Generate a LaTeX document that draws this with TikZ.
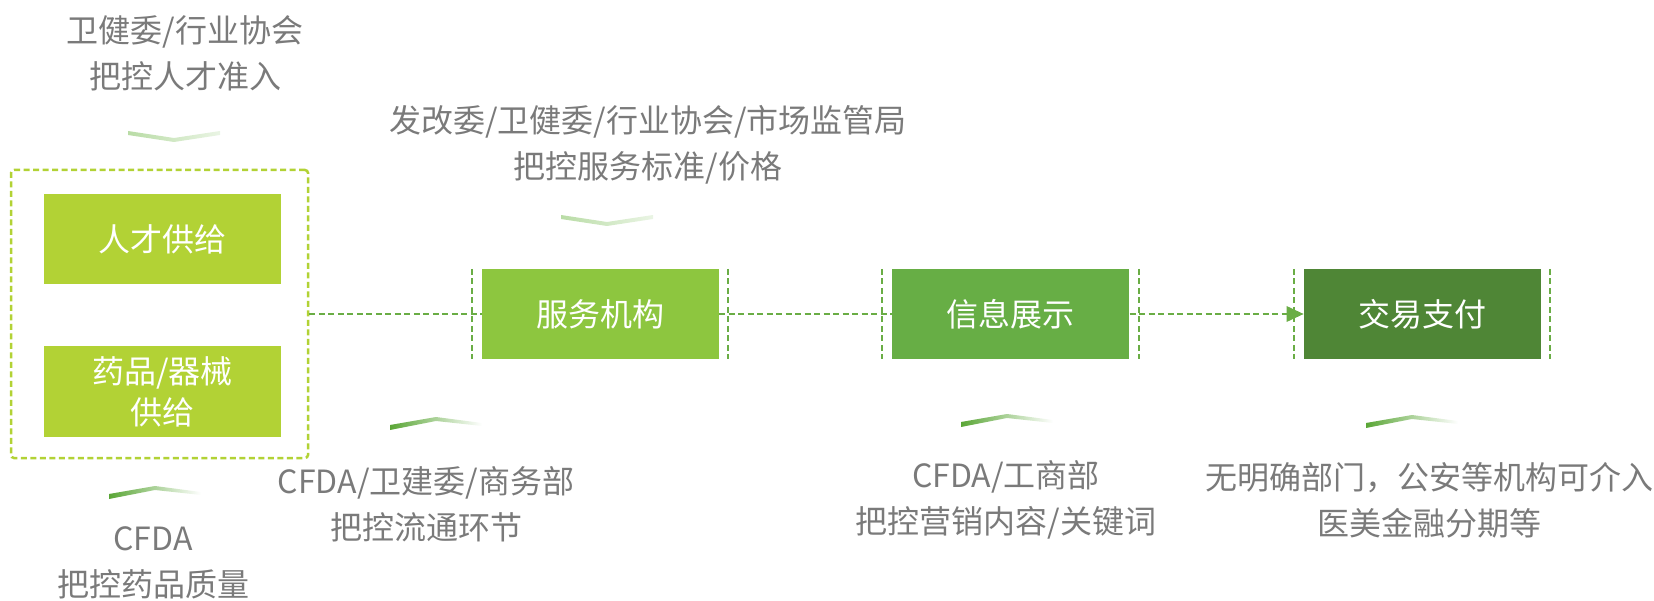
\documentclass[tikz,border=0pt]{standalone}
\usepackage{fontspec}
\setmainfont{Noto Sans CJK SC}
\usetikzlibrary{positioning}
\definecolor{limefill}{HTML}{B2D235}
\definecolor{servfill}{HTML}{8DC63F}
\definecolor{infofill}{HTML}{67AE45}
\definecolor{payfill}{HTML}{4F8636}
\definecolor{flowgreen}{HTML}{6AAD45}
\definecolor{notegray}{HTML}{7A7A7A}
\definecolor{chevlight}{HTML}{B9DCA6}
\definecolor{chevdark}{HTML}{5AA636}
\newcommand{\chevdown}[1]{\shade[shift={(#1)}, left color=chevlight, right color=chevlight!30] (-46,-5) -- (0,2) -- (46,-5) -- (46,-1) -- (0,6) -- (-46,-1) -- cycle;}
\newcommand{\chevup}[1]{\shade[shift={(#1)}, left color=chevdark, right color=white] (-46,4) -- (0,-4) -- (46,2) -- (46,5) -- (0,0) -- (-46,9) -- cycle;}

\begin{document}
\begin{tikzpicture}[x=1pt, y=-1pt]
        \tikzstyle{box} = [rectangle, minimum width=237pt, minimum height=90pt, inner sep=0pt, text=white, font=\fontsize{32}{41}\selectfont, align=center]
        \tikzstyle{note} = [inner sep=0pt, text=notegray, font=\fontsize{32}{46}\selectfont, align=center]
        \tikzstyle{flow} = [draw=flowgreen, line width=2pt, dash pattern=on 6pt off 3.5pt]
        \tikzstyle{tick} = [draw=flowgreen, line width=2pt, dash pattern=on 6pt off 3.5pt]
        \useasboundingbox (0,0) rectangle (1654,601);
        % supply group
        \node (supply) [draw=limefill, line width=2.5pt, dash pattern=on 6pt off 3.5pt, rounded corners=3pt, minimum width=297pt, minimum height=288pt] at (159.5,314) {};
        \node (talent) [box, fill=limefill] at (162.5,239) {人才供给};
        \node (drug) [box, fill=limefill] at (162.5,391.5) {药品/器械\\供给};
        % chain
        \node (service) [box, fill=servfill] at (600.5,314) {服务机构};
        \node (info) [box, fill=infofill, right=173pt of service] {信息展示};
        \node (pay) [box, fill=payfill, right=174pt of info] {交易支付};
        \foreach \b in {service, info, pay} {
            \draw[tick] ([xshift=-10pt]\b.north west) -- ([xshift=-10pt]\b.south west);
            \draw[tick] ([xshift=9pt]\b.north east) -- ([xshift=9pt]\b.south east);
        }
        \draw[flow] (supply.east) -- (service.west);
        \draw[flow] (service.east) -- (info.west);
        \draw[flow] (info.east) -- ([xshift=-16pt]pay.west);
        \fill[flowgreen] (pay.west) -- ++(-17,-8) -- ++(0,16) -- cycle;
        % regulators
        \node (talentreg) [note] at (185,53) {卫健委/行业协会\\把控人才准入};
        \node (servreg) [note] at (648,145) {发改委/卫健委/行业协会/市场监管局\\把控服务标准/价格};
        \node (drugreg) [note] at (153,563) {CFDA\\把控药品质量};
        \node (circreg) [note] at (426,504) {CFDA/卫建委/商务部\\把控流通环节};
        \node (inforeg) [note] at (1006,500) {CFDA/工商部\\把控营销内容/关键词};
        \node (payreg) [note] at (1429,500) {无明确部门，公安等机构可介入\\医美金融分期等};
        % chevrons
        \chevdown{174,136}
        \chevdown{607,220}
        \chevup{155,490}
        \chevup{436,421}
        \chevup{1007,418}
        \chevup{1412,419}
\end{tikzpicture}
\end{document}
